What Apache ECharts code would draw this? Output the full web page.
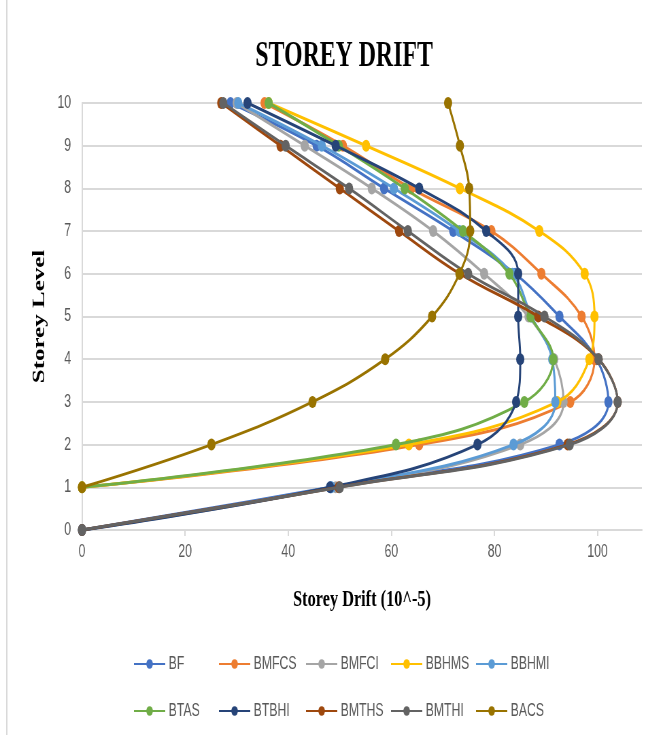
<!DOCTYPE html>
<html>
<head>
<meta charset="utf-8">
<script src="https://cdn.jsdelivr.net/npm/echarts@6/dist/echarts.min.js"></script>
<style>
  html, body { margin: 0; padding: 0; background: #fff; overflow: hidden; }
  /* the chart is laid out wide and squeezed horizontally to fit the frame */
  #chart { width: 985px; height: 735px; transform: scaleX(0.68); transform-origin: 0 0; }
</style>
</head>
<body>
<div id="chart"></div>
<script>
// storey levels (vertical axis)
const levels = [0, 1, 2, 3, 4, 5, 6, 7, 8, 9, 10];

// storey drift (x 10^-5) at each level, bottom to top; null = no point
const BF    = [0, 48.2, 92.6, 102.1, 99.8, 92.6, 84.0, 72.0, 58.6, 45.5, 28.8];
const BMFCS = [null, 0, 65.4, 94.7, 99.4, 96.9, 89.1, 79.4, 63.8, 50.6, 35.4];
const BMFCI = [0, 49.2, 85.0, 93.4, 91.6, 86.6, 78.0, 68.1, 56.2, 43.2, 30.0];
const BBHMS = [null, 0, 63.4, 92.2, 98.4, 99.4, 97.5, 88.7, 73.3, 55.1, 36.2];
const BBHMI = [0, 48.4, 83.7, 91.8, 91.2, 87.2, 83.5, 73.2, 60.5, 46.5, 30.3];
const BTAS  = [null, 0, 60.9, 85.8, 91.4, 87.0, 82.9, 73.9, 62.6, 49.8, 36.2];
const BTBHI = [0, 48.1, 76.7, 84.2, 85.0, 84.6, 84.6, 78.4, 65.4, 49.2, 32.1];
const BMTHS = [0, 49.8, 94.2, 103.9, 100.2, 88.5, 73.3, 61.5, 50.0, 38.5, 27.0];
const BMTHI = [0, 50.0, 94.6, 103.9, 100.2, 89.7, 74.9, 63.2, 51.8, 39.5, 27.4];
const BACS  = [null, 0, 25.1, 44.7, 58.8, 67.9, 73.2, 75.3, 75.1, 73.3, 71.0];

const seriesNames = ['BF', 'BMFCS', 'BMFCI', 'BBHMS', 'BBHMI', 'BTAS', 'BTBHI', 'BMTHS', 'BMTHI', 'BACS'];
const seriesValues = [BF, BMFCS, BMFCI, BBHMS, BBHMI, BTAS, BTBHI, BMTHS, BMTHI, BACS];
const colors = ['#4472C4', '#ED7D31', '#A5A5A5', '#FFC000', '#5B9BD5',
                '#70AD47', '#264478', '#9E480E', '#636363', '#997300'];

const xTicks = { min: 0, max: 108.6, step: 20 };

const sansFont = '"Liberation Sans", Arial, sans-serif';
const serifFont = '"Liberation Serif", "Times New Roman", serif';

// legend laid out as a 5 x 2 grid
const legendCols = [196, 321, 449, 574, 699];
const legendRows = [655, 702];
const legends = seriesNames.map((name, i) => ({
  data: [name],
  left: legendCols[i % 5],
  top: legendRows[Math.floor(i / 5)],
  padding: 0,
  itemWidth: 46,
  itemHeight: 12,
  itemGap: 0,
  textStyle: { fontSize: 18, color: '#595959', fontFamily: sansFont }
}));

const series = seriesNames.map((name, i) => ({
  name: name,
  type: 'line',
  smooth: 0.4,
  symbol: 'circle',
  symbolSize: 12,
  color: colors[i],
  lineStyle: { width: 3, color: colors[i] },
  itemStyle: { color: colors[i] },
  z: 2 + i,
  data: seriesValues[i]
    .map((v, k) => [v, levels[k]])
    .filter(p => p[0] !== null)
}));

const chart = echarts.init(document.getElementById('chart'), null, { renderer: 'canvas' });
chart.setOption({
  animation: false,
  backgroundColor: '#fff',
  title: {
    text: 'STOREY DRIFT',
    left: 501,
    top: 34,
    textAlign: 'center',
    textStyle: { fontFamily: serifFont, fontWeight: 'bold', fontSize: 35, color: '#000' }
  },
  graphic: [{
    type: 'line',
    shape: { x1: 10, y1: 0, x2: 10, y2: 735 },
    style: { stroke: '#d9d9d9', lineWidth: 2 }
  }],
  legend: legends,
  grid: { left: 120.6, right: 41, top: 103, bottom: 205 },
  xAxis: {
    type: 'value',
    min: xTicks.min,
    max: xTicks.max,
    interval: xTicks.step,
    name: 'Storey Drift (10^-5)',
    nameLocation: 'middle',
    nameGap: 58,
    nameTextStyle: { fontFamily: serifFont, fontWeight: 'bold', fontSize: 24, color: '#000' },
    axisLine: { show: true, lineStyle: { color: '#d9d9d9', width: 2 } },
    axisTick: { show: true, length: 6, lineStyle: { color: '#d9d9d9', width: 2 } },
    axisLabel: { showMaxLabel: false, fontSize: 18, color: '#595959', fontFamily: sansFont, margin: 13 },
    splitLine: { show: false }
  },
  yAxis: {
    type: 'value',
    min: 0,
    max: 10,
    interval: 1,
    name: 'Storey Level',
    nameLocation: 'middle',
    nameRotate: 90,
    nameGap: 50,
    nameTextStyle: { fontFamily: serifFont, fontWeight: 'bold', fontSize: 25, color: '#000' },
    axisLine: { show: true, lineStyle: { color: '#d9d9d9', width: 2 } },
    axisTick: { show: false },
    axisLabel: { fontSize: 18, color: '#595959', fontFamily: sansFont, margin: 16 },
    splitLine: { show: true, lineStyle: { color: '#d9d9d9', width: 2 } }
  },
  series: series
});
</script>
</body>
</html>
